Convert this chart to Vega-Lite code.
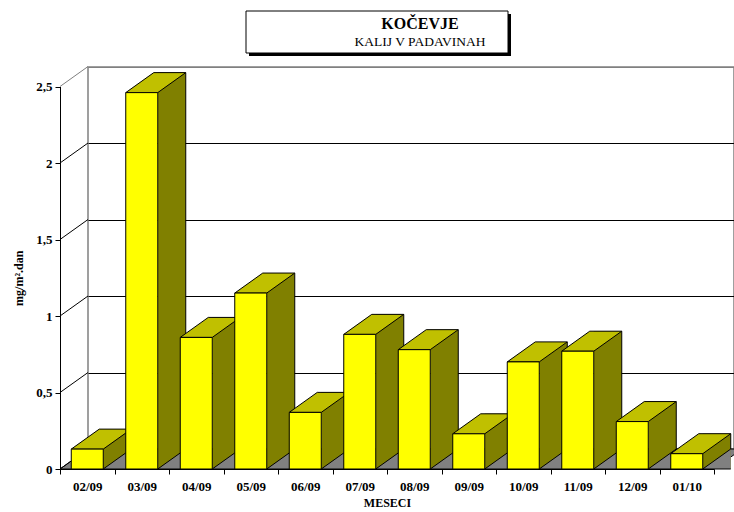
{
  "$schema": "https://vega.github.io/schema/vega-lite/v6.json",
  "width": 646,
  "height": 382,
  "autosize": "none",
  "padding": {"left": 88, "top": 67, "right": 0, "bottom": 63},
  "background": "white",
  "config": {
    "font": "'Liberation Serif', 'Times New Roman', serif",
    "view": {"stroke": "#808080", "strokeWidth": 1.5},
    "axis": {
      "domainColor": "black",
      "tickColor": "black",
      "labelColor": "black",
      "titleColor": "black",
      "labelFont": "'Liberation Serif', 'Times New Roman', serif",
      "titleFont": "'Liberation Serif', 'Times New Roman', serif",
      "labelFontWeight": "bold",
      "titleFontWeight": "bold",
      "labelFontSize": 13,
      "titleFontSize": 12,
      "domainWidth": 1,
      "tickWidth": 1
    }
  },
  "title": {
    "text": "KOČEVJE",
    "subtitle": "KALIJ V PADAVINAH",
    "anchor": "middle",
    "frame": "group",
    "dx": 9,
    "offset": 0,
    "dy": 39,
    "font": "'Liberation Serif', 'Times New Roman', serif",
    "fontSize": 16,
    "fontWeight": "bold",
    "color": "black",
    "subtitleFont": "'Liberation Serif', 'Times New Roman', serif",
    "subtitleFontSize": 13.5,
    "subtitleColor": "black",
    "subtitlePadding": 3
  },
  "datasets": {
    "kalij": [
      {"mesec": "02/09", "vrednost": 0.13},
      {"mesec": "03/09", "vrednost": 2.46},
      {"mesec": "04/09", "vrednost": 0.86},
      {"mesec": "05/09", "vrednost": 1.15},
      {"mesec": "06/09", "vrednost": 0.37},
      {"mesec": "07/09", "vrednost": 0.88},
      {"mesec": "08/09", "vrednost": 0.78},
      {"mesec": "09/09", "vrednost": 0.23},
      {"mesec": "10/09", "vrednost": 0.70},
      {"mesec": "11/09", "vrednost": 0.77},
      {"mesec": "12/09", "vrednost": 0.31},
      {"mesec": "01/10", "vrednost": 0.10}
    ],
    "ravni": [
      {"raven": 0}, {"raven": 0.5}, {"raven": 1}, {"raven": 1.5}, {"raven": 2}, {"raven": 2.5}
    ]
  },
  "resolve": {"scale": {"y": "independent"}},
  "layer": [
    {
      "data": {"name": "kalij"},
      "mark": {"type": "rule", "opacity": 0},
      "encoding": {
        "y": {
          "field": "vrednost", "type": "quantitative",
          "scale": {"domain": [0, 2.5], "nice": false},
          "axis": {
            "orient": "left", "offset": 0, "grid": true, "domain": false, "ticks": false, "labels": false, "title": null,
            "values": [0, 0.5, 1, 1.5, 2, 2.5],
            "gridColor": {"condition": {"test": "datum.value >= 2.5", "value": "#808080"}, "value": "black"},
            "gridWidth": 1
          }
        }
      }
    },
    {
      "layer": [
        {
          "data": {"name": "kalij"},
          "transform": [{"filter": "datum.mesec == '02/09'"}],
          "mark": {"type": "point", "shape": "M-27.25,0 L626.75,0 L654.75,-20 L0.75,-20 Z", "size": 4, "filled": true, "fill": "#808080", "stroke": "black", "strokeWidth": 1, "opacity": 1},
          "encoding": {
            "x": {"field": "mesec", "type": "nominal", "title": "MESECI",
              "scale": {"type": "band", "domain": ["02/09","03/09","04/09","05/09","06/09","07/09","08/09","09/09","10/09","11/09","12/09","01/10"], "range": [-28, 626], "paddingInner": 0, "paddingOuter": 0},
              "axis": {"orient": "bottom", "offset": 20, "tickBand": "extent", "tickSize": 5, "labelPadding": 6, "labelAngle": 0, "title": "MESECI", "titlePadding": 4, "grid": false}},
            "y": {"datum": 0, "type": "quantitative", "title": "mg/m².dan",
              "scale": {"domain": [0, 2.5], "range": [402, 19.5], "nice": false},
              "axis": {"orient": "left", "offset": 28, "values": [0, 0.5, 1, 1.5, 2, 2.5], "labelExpr": "replace(format(datum.value, '~g'), '.', ',')", "tickSize": 5, "labelPadding": 3, "title": "mg/m².dan", "titlePadding": 10, "grid": false}}
          }
        },
        {
          "data": {"name": "ravni"},
          "mark": {"type": "point", "shape": "M-27.25,0 L0.75,-20", "size": 4, "filled": false, "strokeWidth": 1, "opacity": 1},
          "encoding": {
            "x": {"datum": "02/09", "type": "nominal", "title": "MESECI",
              "axis": {"orient": "bottom", "offset": 20, "tickBand": "extent", "tickSize": 5, "labelPadding": 6, "labelAngle": 0, "title": "MESECI", "titlePadding": 4, "grid": false}},
            "y": {"field": "raven", "type": "quantitative", "title": "mg/m².dan",
              "axis": {"orient": "left", "offset": 28, "values": [0, 0.5, 1, 1.5, 2, 2.5], "labelExpr": "replace(format(datum.value, '~g'), '.', ',')", "tickSize": 5, "labelPadding": 3, "title": "mg/m².dan", "titlePadding": 10, "grid": false}},
            "stroke": {"condition": {"test": "datum.raven >= 2.5", "value": "#808080"}, "value": "black"}
          }
        },
        {
          "data": {"name": "kalij"},
          "mark": {"type": "bar", "width": 28, "xOffset": 30, "yOffset": -20, "fill": "#808000", "strokeWidth": 0},
          "encoding": {
            "x": {"field": "mesec", "type": "nominal", "title": "MESECI",
              "axis": {"orient": "bottom", "offset": 20, "tickBand": "extent", "tickSize": 5, "labelPadding": 6, "labelAngle": 0, "title": "MESECI", "titlePadding": 4, "grid": false}},
            "y": {"field": "vrednost", "type": "quantitative", "title": "mg/m².dan",
              "axis": {"orient": "left", "offset": 28, "values": [0, 0.5, 1, 1.5, 2, 2.5], "labelExpr": "replace(format(datum.value, '~g'), '.', ',')", "tickSize": 5, "labelPadding": 3, "title": "mg/m².dan", "titlePadding": 10, "grid": false}},
            "y2": {"datum": 0}
          }
        },
        {
          "data": {"name": "kalij"},
          "mark": {"type": "point", "shape": "M44,0 L16,0 L44,-20", "size": 4, "filled": true, "fill": "#808080", "stroke": "black", "strokeWidth": 1, "opacity": 1},
          "encoding": {
            "x": {"field": "mesec", "type": "nominal", "title": "MESECI",
              "axis": {"orient": "bottom", "offset": 20, "tickBand": "extent", "tickSize": 5, "labelPadding": 6, "labelAngle": 0, "title": "MESECI", "titlePadding": 4, "grid": false}},
            "y": {"datum": 0, "type": "quantitative", "title": "mg/m².dan",
              "axis": {"orient": "left", "offset": 28, "values": [0, 0.5, 1, 1.5, 2, 2.5], "labelExpr": "replace(format(datum.value, '~g'), '.', ',')", "tickSize": 5, "labelPadding": 3, "title": "mg/m².dan", "titlePadding": 10, "grid": false}}
          }
        },
        {
          "data": {"name": "kalij"},
          "mark": {"type": "rule", "xOffset": 44, "yOffset": -20, "y2Offset": -20, "stroke": "black", "strokeWidth": 1},
          "encoding": {
            "x": {"field": "mesec", "type": "nominal", "title": "MESECI",
              "axis": {"orient": "bottom", "offset": 20, "tickBand": "extent", "tickSize": 5, "labelPadding": 6, "labelAngle": 0, "title": "MESECI", "titlePadding": 4, "grid": false}},
            "y": {"field": "vrednost", "type": "quantitative", "title": "mg/m².dan",
              "axis": {"orient": "left", "offset": 28, "values": [0, 0.5, 1, 1.5, 2, 2.5], "labelExpr": "replace(format(datum.value, '~g'), '.', ',')", "tickSize": 5, "labelPadding": 3, "title": "mg/m².dan", "titlePadding": 10, "grid": false}},
            "y2": {"datum": 0}
          }
        },
        {
          "data": {"name": "kalij"},
          "mark": {"type": "point", "shape": "M-16,0 L16,0 L44,-20 L12,-20 Z", "size": 4, "filled": true, "fill": "#C0C000", "stroke": "black", "strokeWidth": 1, "opacity": 1},
          "encoding": {
            "x": {"field": "mesec", "type": "nominal", "title": "MESECI",
              "axis": {"orient": "bottom", "offset": 20, "tickBand": "extent", "tickSize": 5, "labelPadding": 6, "labelAngle": 0, "title": "MESECI", "titlePadding": 4, "grid": false}},
            "y": {"field": "vrednost", "type": "quantitative", "title": "mg/m².dan",
              "axis": {"orient": "left", "offset": 28, "values": [0, 0.5, 1, 1.5, 2, 2.5], "labelExpr": "replace(format(datum.value, '~g'), '.', ',')", "tickSize": 5, "labelPadding": 3, "title": "mg/m².dan", "titlePadding": 10, "grid": false}}
          }
        },
        {
          "data": {"name": "kalij"},
          "mark": {"type": "bar", "width": 32, "fill": "#FFFF00", "stroke": "black", "strokeWidth": 1},
          "encoding": {
            "x": {"field": "mesec", "type": "nominal", "title": "MESECI",
              "axis": {"orient": "bottom", "offset": 20, "tickBand": "extent", "tickSize": 5, "labelPadding": 6, "labelAngle": 0, "title": "MESECI", "titlePadding": 4, "grid": false}},
            "y": {"field": "vrednost", "type": "quantitative", "title": "mg/m².dan",
              "axis": {"orient": "left", "offset": 28, "values": [0, 0.5, 1, 1.5, 2, 2.5], "labelExpr": "replace(format(datum.value, '~g'), '.', ',')", "tickSize": 5, "labelPadding": 3, "title": "mg/m².dan", "titlePadding": 10, "grid": false}},
            "y2": {"datum": 0}
          }
        },
        {
          "data": {"name": "kalij"},
          "transform": [{"filter": "datum.mesec == '07/09'"}],
          "mark": {"type": "point", "shape": "M-110.75,-72.5 L151.25,-72.5 L151.25,-30.5 L-110.75,-30.5 Z", "size": 4, "filled": true, "fill": "black", "strokeWidth": 0, "opacity": 1},
          "encoding": {
            "x": {"field": "mesec", "type": "nominal", "title": "MESECI",
              "axis": {"orient": "bottom", "offset": 20, "tickBand": "extent", "tickSize": 5, "labelPadding": 6, "labelAngle": 0, "title": "MESECI", "titlePadding": 4, "grid": false}},
            "y": {"datum": 2.5, "type": "quantitative", "title": "mg/m².dan",
              "axis": {"orient": "left", "offset": 28, "values": [0, 0.5, 1, 1.5, 2, 2.5], "labelExpr": "replace(format(datum.value, '~g'), '.', ',')", "tickSize": 5, "labelPadding": 3, "title": "mg/m².dan", "titlePadding": 10, "grid": false}}
          }
        },
        {
          "data": {"name": "kalij"},
          "transform": [{"filter": "datum.mesec == '07/09'"}],
          "mark": {"type": "point", "shape": "M-113.75,-75.5 L148.25,-75.5 L148.25,-33.5 L-113.75,-33.5 Z", "size": 4, "filled": true, "fill": "white", "stroke": "black", "strokeWidth": 1, "opacity": 1},
          "encoding": {
            "x": {"field": "mesec", "type": "nominal", "title": "MESECI",
              "axis": {"orient": "bottom", "offset": 20, "tickBand": "extent", "tickSize": 5, "labelPadding": 6, "labelAngle": 0, "title": "MESECI", "titlePadding": 4, "grid": false}},
            "y": {"datum": 2.5, "type": "quantitative", "title": "mg/m².dan",
              "axis": {"orient": "left", "offset": 28, "values": [0, 0.5, 1, 1.5, 2, 2.5], "labelExpr": "replace(format(datum.value, '~g'), '.', ',')", "tickSize": 5, "labelPadding": 3, "title": "mg/m².dan", "titlePadding": 10, "grid": false}}
          }
        }
      ]
    }
  ]
}
